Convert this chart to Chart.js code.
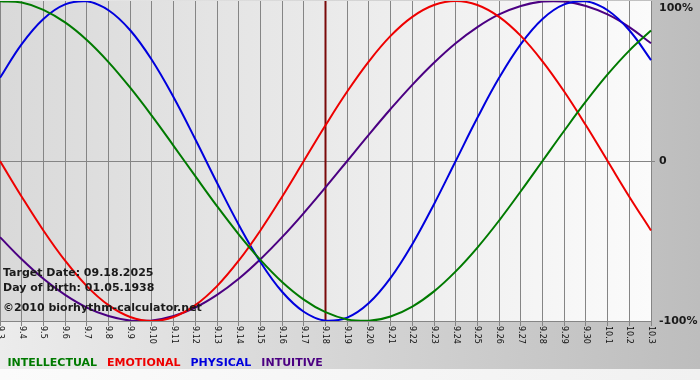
<!DOCTYPE html>
<html><head><meta charset="utf-8">
<style>html,body{margin:0;padding:0;background:#fff}#wrap{width:700px;height:380px}</style>
<script src="https://cdn.jsdelivr.net/npm/chart.js@4"></script>
</head><body><div id="wrap"><canvas id="c" width="700" height="380"></canvas></div>
<script>
const dayLabels = ['9.3','9.4','9.5','9.6','9.7','9.8','9.9','9.10','9.11','9.12','9.13','9.14','9.15','9.16','9.17','9.18','9.19','9.20','9.21','9.22','9.23','9.24','9.25','9.26','9.27','9.28','9.29','9.30','10.1','10.2','10.3'];
const intellectual = [0.999,0.990,0.945,0.866,0.756,0.618,0.458,0.282,0.095,-0.095,-0.282,-0.458,-0.618,-0.756,-0.866,-0.945,-0.990,-0.999,-0.972,-0.910,-0.815,-0.690,-0.541,-0.372,-0.189,0,0.189,0.372,0.541,0.690,0.815];
const emotional = [0,-0.223,-0.434,-0.623,-0.782,-0.901,-0.975,-1,-0.975,-0.901,-0.782,-0.623,-0.434,-0.223,0,0.223,0.434,0.623,0.782,0.901,0.975,1,0.975,0.901,0.782,0.623,0.434,0.223,0,-0.223,-0.434];
const physical = [0.520,0.731,0.888,0.979,0.998,0.942,0.817,0.631,0.398,0.136,-0.136,-0.398,-0.631,-0.817,-0.942,-0.998,-0.979,-0.888,-0.731,-0.520,-0.270,0,0.270,0.520,0.731,0.888,0.979,0.998,0.942,0.817,0.631];
const intuitive = [-0.476,-0.614,-0.736,-0.837,-0.916,-0.969,-0.997,-0.997,-0.969,-0.916,-0.837,-0.736,-0.614,-0.476,-0.325,-0.165,0,0.165,0.325,0.476,0.614,0.736,0.837,0.916,0.969,0.997,0.997,0.969,0.916,0.837,0.736];
const seriesNames = ['INTELLECTUAL','EMOTIONAL','PHYSICAL','INTUITIVE'];
const seriesColors = ['#007a00','#ee0000','#0000dd','#4b0082'];
const yTickValues = [-1, 0, 1];
const yTickLabels = ['-100%','0','100%'];
const targetDay = '9.18';
const infoLines = ['Target Date: 09.18.2025','Day of birth: 01.05.1938','\u00A92010 biorhythm-calculator.net'];

const seriesData = [intellectual, emotional, physical, intuitive];

const decor = {
  id: 'decor',
  beforeDraw(chart) {
    const ctx = chart.ctx, a = chart.chartArea;
    ctx.save();
    let g = ctx.createLinearGradient(0, 0, 700, 0);
    g.addColorStop(0, '#ececec'); g.addColorStop(1, '#bdbdbd');
    ctx.fillStyle = g; ctx.fillRect(0, 0, 700, 369);
    g = ctx.createLinearGradient(0, 0, 700, 0);
    g.addColorStop(0, '#fbfbfb'); g.addColorStop(1, '#f1f1f1');
    ctx.fillStyle = g; ctx.fillRect(0, 369, 700, 11);
    g = ctx.createLinearGradient(a.left, 0, a.right, 0);
    g.addColorStop(0, '#d9d9d9'); g.addColorStop(1, '#fbfbfb');
    ctx.fillStyle = g; ctx.fillRect(a.left, a.top, a.right - a.left, a.bottom - a.top);
    ctx.restore();
  },
  beforeDatasetsDraw(chart) {
    const ctx = chart.ctx, a = chart.chartArea, xs = chart.scales.x;
    const px = xs.getPixelForValue(dayLabels.indexOf(targetDay));
    ctx.save();
    ctx.strokeStyle = '#7a0a0a'; ctx.lineWidth = 2;
    ctx.beginPath(); ctx.moveTo(px, a.top); ctx.lineTo(px, a.bottom); ctx.stroke();
    ctx.restore();
  },
  afterDraw(chart) {
    const ctx = chart.ctx, a = chart.chartArea, xs = chart.scales.x, ys = chart.scales.y;
    ctx.save();
    ctx.fillStyle = '#111';
    ctx.font = '8px "DejaVu Sans"';
    ctx.textAlign = 'left'; ctx.textBaseline = 'middle';
    dayLabels.forEach((lab, i) => {
      const x = xs.getPixelForValue(i);
      ctx.save(); ctx.translate(x, a.bottom + 5); ctx.rotate(Math.PI / 2);
      ctx.fillText(lab, 0, 0); ctx.restore();
    });
    ctx.font = 'bold 11px "DejaVu Sans"';
    ctx.fillStyle = '#1a1a1a';
    yTickValues.forEach((v, i) => {
      const y = Math.max(ys.getPixelForValue(v), 8);
      ctx.fillText(yTickLabels[i], a.right + 8, y);
    });
    ctx.textBaseline = 'alphabetic';
    ctx.fillStyle = '#1a1a1a';
    const ly = [276, 291, 311];
    infoLines.forEach((t, i) => ctx.fillText(t, 3, ly[i]));
    let lx = 7.5;
    seriesNames.forEach((n, i) => {
      ctx.fillStyle = seriesColors[i];
      ctx.fillText(n, lx, 366);
      lx += ctx.measureText(n).width + 10;
    });
    ctx.restore();
  }
};

new Chart(document.getElementById('c'), {
  type: 'line',
  data: {
    labels: dayLabels,
    datasets: seriesNames.map((n, i) => ({
      label: n, data: seriesData[i], borderColor: seriesColors[i], backgroundColor: seriesColors[i],
      borderWidth: 2, pointRadius: 0, tension: 0.4, fill: false
    }))
  },
  options: {
    responsive: false, devicePixelRatio: 1, animation: false,
    layout: { padding: { top: 1, left: 0, right: 0, bottom: 0 } },
    plugins: { legend: { display: false }, tooltip: { enabled: false } },
    scales: {
      x: {
        type: 'category', offset: false,
        grid: { color: '#858585', lineWidth: 1, tickLength: 5 },
        border: { display: true, color: '#858585' },
        ticks: { display: false, autoSkip: false },
        afterFit(s) { s.height = 59; }
      },
      y: {
        position: 'right', min: -1, max: 1,
        afterBuildTicks(s) { s.ticks = yTickValues.map(v => ({ value: v })); },
        grid: { color: c => (c.tick && c.tick.value === 0) ? '#858585' : 'rgba(0,0,0,0)', tickLength: 4 },
        border: { display: false },
        ticks: { display: false },
        afterFit(s) { s.width = 49; }
      }
    }
  },
  plugins: [decor]
});
</script></body></html>
